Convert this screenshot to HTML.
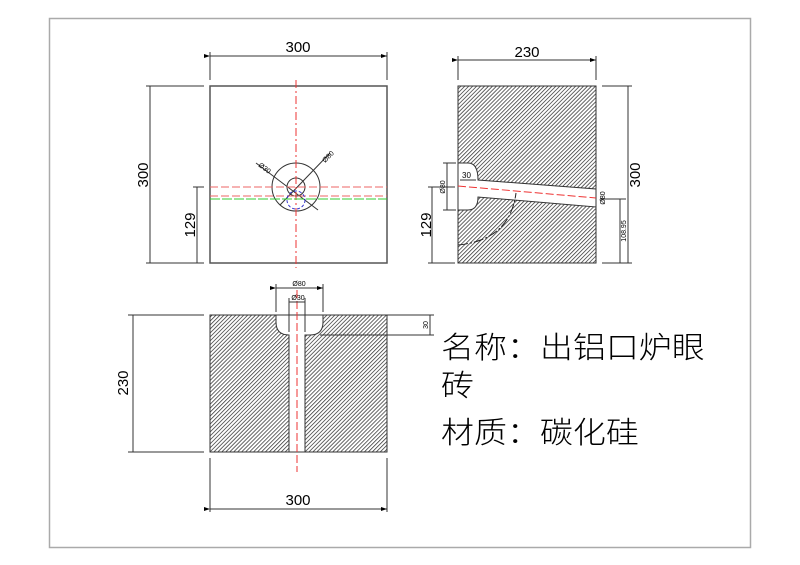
<!DOCTYPE html>
<html><head><meta charset="utf-8"><style>
html,body{margin:0;padding:0;background:#fff;}
svg{display:block;}
.cn{font-family:"Liberation Sans","Noto Sans CJK SC",sans-serif;}
</style></head><body>
<svg width="800" height="565" viewBox="0 0 800 565" xmlns="http://www.w3.org/2000/svg">
<defs>
<pattern id="h" patternUnits="userSpaceOnUse" width="2.8" height="2.8" patternTransform="rotate(45)">
<rect width="2.8" height="2.8" fill="#fff"/>
<line x1="0" y1="0" x2="0" y2="2.8" stroke="#333" stroke-width="1.5"/>
</pattern>
<marker id="a" markerWidth="6" markerHeight="4" refX="6" refY="2" orient="auto"><path d="M0,0 L6,2 L0,4z" fill="#000"/></marker>
</defs>
<rect x="49.5" y="18.5" width="701" height="529" fill="none" stroke="#aaa" stroke-width="1.5"/>
<g font-family="Liberation Sans,sans-serif" fill="#000">
<rect x="210" y="86" width="177" height="177" fill="none" stroke="#555" stroke-width="1.5"/>
<g stroke="#333" stroke-width="1" fill="none">
<line x1="210" y1="52" x2="210" y2="80"/><line x1="387" y1="52" x2="387" y2="80"/>
<line x1="210" y1="56" x2="387" y2="56" marker-start="url(#a)" marker-end="url(#a)"/>
<line x1="146" y1="86" x2="204" y2="86"/><line x1="146" y1="263" x2="204" y2="263"/>
<line x1="150" y1="86" x2="150" y2="263"/>
<line x1="193" y1="187" x2="204" y2="187"/><line x1="193" y1="263" x2="204" y2="263"/>
<line x1="197" y1="187" x2="197" y2="263"/>
<circle cx="296" cy="187" r="24"/><circle cx="296" cy="187" r="9"/>
<line x1="256" y1="163" x2="318" y2="210"/>
<line x1="280" y1="205" x2="330" y2="153"/>
</g>
<line x1="296" y1="80" x2="296" y2="268" stroke="#e33" stroke-dasharray="8,3,2,3"/>
<line x1="210" y1="187" x2="387" y2="187" stroke="#e66" stroke-dasharray="8,3"/>
<line x1="210" y1="196" x2="387" y2="196" stroke="#e66" stroke-dasharray="8,3"/>
<line x1="210" y1="199" x2="387" y2="199" stroke="#3c3" stroke-dasharray="10,2"/>
<circle cx="296" cy="200" r="9" fill="none" stroke="#33c" stroke-dasharray="3,2"/>
<text x="298" y="52" font-size="15" text-anchor="middle">300</text>
<text transform="translate(148,175) rotate(-90)" font-size="15" text-anchor="middle">300</text>
<text transform="translate(195,225) rotate(-90)" font-size="15" text-anchor="middle">129</text>
<text transform="translate(258,166) rotate(37)" font-size="7">Ø30</text>
<text transform="translate(325,163) rotate(-45)" font-size="7">Ø80</text>
<rect x="458" y="86" width="138" height="177" fill="url(#h)" stroke="#333"/>
<path d="M458,163 L468,163 Q478,163 478,180 L596,189 L596,207 L478,197 Q478,210 468,210 L458,210 Z" fill="#fff" stroke="#333"/>
<line x1="458" y1="186" x2="596" y2="198" stroke="#e33" stroke-dasharray="8,3"/>
<path d="M458,245 Q510,240 516,193" fill="none" stroke="#222" stroke-dasharray="10,2,2,2"/>
<g stroke="#333" stroke-width="1" fill="none">
<line x1="458" y1="60" x2="596" y2="60" marker-start="url(#a)" marker-end="url(#a)"/>
<line x1="458" y1="56" x2="458" y2="80"/><line x1="596" y1="56" x2="596" y2="80"/>
<line x1="602" y1="86" x2="632" y2="86"/><line x1="602" y1="263" x2="632" y2="263"/>
<line x1="628" y1="86" x2="628" y2="263"/>
<line x1="428" y1="187" x2="455" y2="187"/><line x1="428" y1="263" x2="455" y2="263"/>
<line x1="432" y1="187" x2="432" y2="263"/>
<line x1="443" y1="163" x2="456" y2="163"/><line x1="443" y1="210" x2="456" y2="210"/>
<line x1="447" y1="163" x2="447" y2="210"/>
<line x1="600" y1="199" x2="626" y2="199"/>
<line x1="620" y1="199" x2="620" y2="263"/>
<line x1="460" y1="180" x2="476" y2="180"/>
</g>
<text x="527" y="57" font-size="15" text-anchor="middle">230</text>
<text transform="translate(640,175) rotate(-90)" font-size="15" text-anchor="middle">300</text>
<text transform="translate(431,225) rotate(-90)" font-size="15" text-anchor="middle">129</text>
<text transform="translate(445,187) rotate(-90)" font-size="7" text-anchor="middle">Ø80</text>
<text transform="translate(605,198) rotate(-90)" font-size="7" text-anchor="middle">Ø80</text>
<text transform="translate(626,231) rotate(-90)" font-size="7" text-anchor="middle">108.95</text>
<text x="462" y="178" font-size="8">30</text>
<rect x="210" y="315" width="177" height="137" fill="url(#h)" stroke="#333"/>
<path d="M276,315 L323,315 L323,322 Q323,335 310,335 L305,335 L305,452 L289,452 L289,335 L289,335 Q276,335 276,322 Z" fill="#fff" stroke="#333"/>
<line x1="297" y1="290" x2="297" y2="472" stroke="#e33" stroke-dasharray="8,3"/>
<g stroke="#333" stroke-width="1" fill="none">
<line x1="276" y1="288" x2="323" y2="288" marker-start="url(#a)" marker-end="url(#a)"/>
<line x1="276" y1="284" x2="276" y2="312"/><line x1="323" y1="284" x2="323" y2="312"/>
<line x1="289" y1="302" x2="305" y2="302"/>
<line x1="289" y1="298" x2="289" y2="332"/><line x1="305" y1="298" x2="305" y2="332"/>
<line x1="387" y1="315" x2="434" y2="315"/><line x1="320" y1="335" x2="434" y2="335"/>
<line x1="430" y1="315" x2="430" y2="335"/>
<line x1="128" y1="315" x2="204" y2="315"/><line x1="128" y1="452" x2="204" y2="452"/>
<line x1="133" y1="315" x2="133" y2="452"/>
<line x1="210" y1="458" x2="210" y2="512"/><line x1="387" y1="458" x2="387" y2="512"/>
<line x1="210" y1="509" x2="387" y2="509" marker-start="url(#a)" marker-end="url(#a)"/>
</g>
<text x="299" y="286" font-size="7" text-anchor="middle">Ø80</text>
<text x="298" y="300" font-size="7" text-anchor="middle">Ø30</text>
<text transform="translate(428,325) rotate(-90)" font-size="7" text-anchor="middle">30</text>
<text transform="translate(128,383) rotate(-90)" font-size="15" text-anchor="middle">230</text>
<text x="298" y="505" font-size="15" text-anchor="middle">300</text>
</g>
<g class="cn" font-size="30" fill="#000" font-weight="300">
<text transform="translate(441,358) scale(1.1,1)">名称：出铝口炉眼</text>
<text transform="translate(441,396) scale(1.1,1)">砖</text>
<text transform="translate(441,443) scale(1.1,1)">材质：碳化硅</text>
</g>
</svg>
</body></html>
